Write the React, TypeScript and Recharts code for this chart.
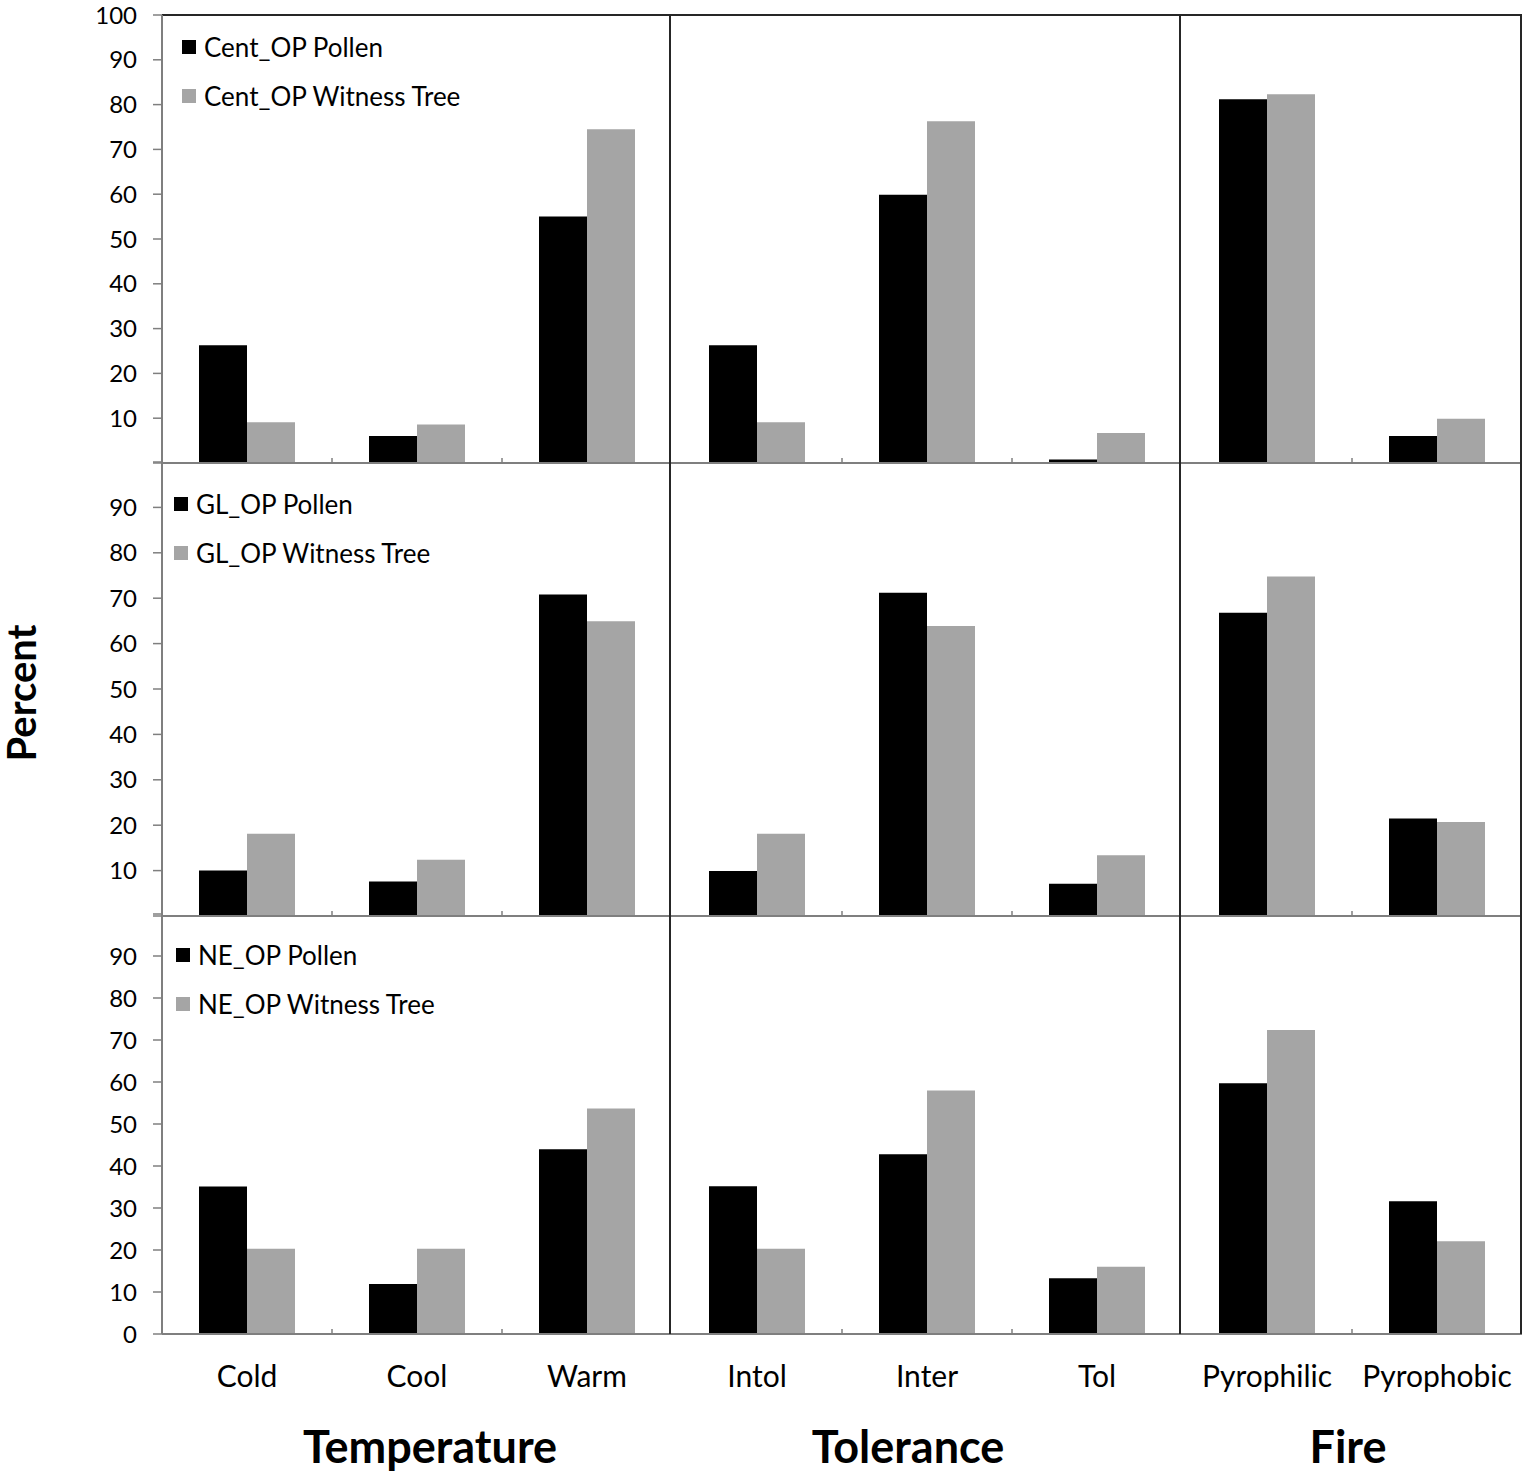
import type { ReactElement } from "react";
import { Bar, BarChart, Legend, ReferenceLine, XAxis, YAxis } from "recharts";

// categories along the shared x axis
const categories = ["Cold", "Cool", "Warm", "Intol", "Inter", "Tol", "Pyrophilic", "Pyrophobic"];
const groupTitles = ["Temperature", "Tolerance", "Fire"];

// percent values
const centPollen = [26.3, 6.0, 55.0, 26.3, 59.9, 0.8, 81.2, 6.0];
const centWitness = [9.1, 8.6, 74.5, 9.1, 76.3, 6.7, 82.3, 9.9];
const glPollen = [10.0, 7.6, 70.8, 9.9, 71.2, 7.1, 66.8, 21.5];
const glWitness = [18.1, 12.4, 64.9, 18.1, 63.9, 13.4, 74.8, 20.7];
const nePollen = [35.1, 11.9, 44.0, 35.2, 42.8, 13.3, 59.7, 31.6];
const neWitness = [20.3, 20.3, 53.7, 20.3, 58.0, 16.0, 72.4, 22.1];

const yTicks = [0, 10, 20, 30, 40, 50, 60, 70, 80, 90, 100];

const WIDTH = 1524;
const AXIS_W = 162;
const RIGHT = 2;
const FONT = "Lato, 'Open Sans', sans-serif";
const AXIS_GREY = "#7f7f7f";
const SEP_LINE = "#262626";
const GROUP_ENDS = [3, 6];

type RowProps = {
  region: string;
  pollen: number[];
  witness: number[];
  top: number;
  marginTop: number;
  plotHeight: number;
  axisHeight: number;
  hideLabels: number[];
  showCategories: boolean;
  topBorder: boolean;
  legendLeft: number;
  legendTop: number;
};

function LegendBox(props: any): ReactElement {
  const items = props.payload ?? [];
  return (
    <div style={{ fontFamily: FONT, fontSize: 26, color: "#000" }}>
      {items.map((item: any) => (
        <div key={item.value} style={{ display: "flex", alignItems: "center", height: 49 }}>
          <span style={{ width: 14, height: 14, background: item.color, marginRight: 8, display: "inline-block" }} />
          <span>{item.value}</span>
        </div>
      ))}
    </div>
  );
}

function Row(p: RowProps): ReactElement {
  const data = categories.map((category, i) => ({
    category,
    pollen: p.pollen[i],
    witness: p.witness[i],
  }));
  const height = p.marginTop + p.plotHeight + p.axisHeight;
  const band = (WIDTH - AXIS_W - RIGHT) / categories.length;

  const renderTick = (t: any) => {
    const half = t.payload?.offset || band / 2;
    const left = t.x - half;
    const idx = t.index as number;
    return (
      <g>
        {idx > 0 && !GROUP_ENDS.includes(idx) && (
          <line x1={left} x2={left} y1={t.y} y2={t.y - 5} stroke={AXIS_GREY} strokeWidth={1.5} />
        )}
        {GROUP_ENDS.includes(idx) && (
          <line x1={left - 2} x2={left - 2} y1={t.y} y2={t.y - p.plotHeight} stroke={SEP_LINE} strokeWidth={2} />
        )}
        {idx === categories.length - 1 && (
          <line x1={t.x + half - 1} x2={t.x + half - 1} y1={t.y} y2={t.y - p.plotHeight} stroke={SEP_LINE} strokeWidth={2} />
        )}
        {p.showCategories && (
          <text x={t.x} y={t.y + 45} textAnchor="middle" dominantBaseline="middle" fontSize={30} fill="#000">
            {t.payload.value}
          </text>
        )}
      </g>
    );
  };

  return (
    <div style={{ position: "absolute", left: 0, top: p.top }}>
      <BarChart
        width={WIDTH}
        height={height}
        data={data}
        margin={{ top: p.marginTop, right: RIGHT, bottom: 0, left: 0 }}
        barGap={0}
      >
        <XAxis
          dataKey="category"
          height={p.axisHeight}
          interval={0}
          tickSize={0}
          tickMargin={0}
          tickLine={false}
          axisLine={{ stroke: AXIS_GREY, strokeWidth: 2 }}
          tick={renderTick}
        />
        <YAxis
          width={AXIS_W}
          domain={[0, 100]}
          ticks={yTicks}
          interval={0}
          tickSize={9}
          tickMargin={16}
          axisLine={{ stroke: AXIS_GREY, strokeWidth: 2 }}
          tickLine={{ stroke: AXIS_GREY, strokeWidth: 1.5 }}
          tick={{ fontSize: 24, fill: "#000" }}
          tickFormatter={(v: number) => (p.hideLabels.includes(v) ? "" : String(v))}
        />
        {p.topBorder && <ReferenceLine y={100} stroke={SEP_LINE} strokeWidth={2} />}
        <Bar dataKey="pollen" name={`${p.region} Pollen`} fill="#000000" barSize={48} isAnimationActive={false} />
        <Bar dataKey="witness" name={`${p.region} Witness Tree`} fill="#a5a5a5" barSize={48} isAnimationActive={false} />
        <Legend
          layout="vertical"
          align="center"
          verticalAlign="middle"
          content={LegendBox}
          wrapperStyle={{ left: p.legendLeft, top: p.legendTop - 24.5, width: "auto" }}
        />
      </BarChart>
    </div>
  );
}

export default function App(): ReactElement {
  return (
    <div
      style={{
        position: "absolute",
        left: 0,
        top: 0,
        width: WIDTH,
        height: 1475,
        background: "#fff",
        fontFamily: FONT,
        overflow: "hidden",
      }}
    >
      <Row
        region="Cent_OP"
        pollen={centPollen}
        witness={centWitness}
        top={0}
        marginTop={15}
        plotHeight={448}
        axisHeight={4}
        hideLabels={[0]}
        showCategories={false}
        topBorder
        legendLeft={182}
        legendTop={47}
      />
      <Row
        region="GL_OP"
        pollen={glPollen}
        witness={glWitness}
        top={452}
        marginTop={10}
        plotHeight={454}
        axisHeight={4}
        hideLabels={[0, 100]}
        showCategories={false}
        topBorder={false}
        legendLeft={174}
        legendTop={52}
      />
      <Row
        region="NE_OP"
        pollen={nePollen}
        witness={neWitness}
        top={904}
        marginTop={10}
        plotHeight={420}
        axisHeight={100}
        hideLabels={[100]}
        showCategories
        topBorder={false}
        legendLeft={176}
        legendTop={51}
      />
      {groupTitles.map((title, i) => (
        <div
          key={title}
          style={{
            position: "absolute",
            left: [430, 908, 1348][i],
            top: 1446,
            transform: "translate(-50%, -50%)",
            fontSize: 45,
            lineHeight: 1,
            fontWeight: 700,
            whiteSpace: "nowrap",
          }}
        >
          {title}
        </div>
      ))}
      <svg width={48} height={260} style={{ position: "absolute", left: 0, top: 563 }}>
        <text
          x={0}
          y={0}
          transform="translate(21 130) rotate(-90)"
          textAnchor="middle"
          dominantBaseline="central"
          fontSize={40}
          fontWeight={700}
          fill="#000"
        >
          Percent
        </text>
      </svg>
    </div>
  );
}
